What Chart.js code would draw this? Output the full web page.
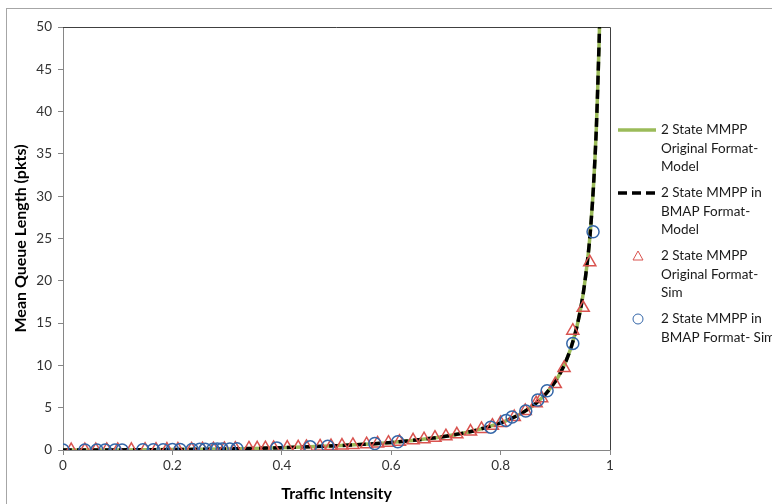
<!DOCTYPE html>
<html lang="en">

<head>
    <meta charset="UTF-8">
    <title>Mean Queue Length vs Traffic Intensity</title>
    <script src="https://cdn.jsdelivr.net/npm/chart.js"></script>
    <style>
        * {
            margin: 0;
            padding: 0;
            box-sizing: border-box;
        }

        body {
            background: #fff;
            width: 772px;
            height: 504px;
            overflow: hidden;
            position: relative;
        }

        .frame {
            position: absolute;
            left: 6px;
            top: 8px;
            width: 800px;
            height: 520px;
            border-left: 1px solid #a6a6a6;
            border-top: 1px solid #a6a6a6;
        }

        .wrap {
            position: absolute;
            left: 0;
            top: 0;
            width: 772px;
            height: 504px;
        }
    </style>
</head>

<body>
    <div class="frame"></div>
    <div class="wrap"><canvas id="queueChart"></canvas></div>

    <script>
        // model curves
        const modelX = [0, 0.1, 0.2, 0.3, 0.4, 0.5, 0.55, 0.6, 0.65, 0.7, 0.75, 0.8, 0.82, 0.84, 0.86, 0.88,
            0.9, 0.91, 0.92, 0.93, 0.94, 0.95, 0.96, 0.965, 0.97, 0.975, 0.98, 0.981];
        const modelY = [0, 0.01, 0.05, 0.13, 0.27, 0.5, 0.67, 0.9, 1.21, 1.63, 2.25, 3.2, 3.74, 4.41, 5.28, 6.45,
            8.1, 9.2, 10.58, 12.36, 14.73, 18.05, 23.04, 26.6, 31.4, 38.0, 48.0, 50.6];

        // simulation, original format (triangles)
        const origSimX = [0.015, 0.04, 0.06, 0.08, 0.1, 0.125, 0.15, 0.17, 0.19, 0.21, 0.235, 0.255, 0.275, 0.295,
            0.315, 0.34, 0.355, 0.37, 0.385, 0.41, 0.43, 0.445, 0.47, 0.49, 0.51, 0.53, 0.555, 0.575, 0.595,
            0.615, 0.64, 0.66, 0.68, 0.7, 0.72, 0.745, 0.765, 0.785, 0.8, 0.825, 0.845, 0.865, 0.875, 0.9,
            0.916, 0.932, 0.951, 0.963];
        const origSimY = [0, 0, 0, 0.01, 0.01, 0.02, 0.03, 0.04, 0.05, 0.06, 0.07, 0.09, 0.1, 0.12,
            0.15, 0.18, 0.2, 0.22, 0.24, 0.29, 0.32, 0.36, 0.42, 0.47, 0.53, 0.6, 0.69, 0.78, 0.87,
            0.98, 1.14, 1.28, 1.45, 1.63, 1.85, 2.18, 2.49, 2.87, 3.2, 3.89, 4.61, 5.54, 6.13, 7.8,
            9.7, 14.1, 16.8, 22.2];

        // simulation, BMAP format (circles)
        const bmapSimX = [0, 0.04, 0.062, 0.077, 0.095, 0.108, 0.146, 0.165, 0.183, 0.2, 0.214, 0.236, 0.25,
            0.26, 0.274, 0.282, 0.291, 0.305, 0.318, 0.391, 0.452, 0.484, 0.57, 0.612, 0.782, 0.81, 0.821,
            0.846, 0.868, 0.885, 0.932, 0.969];
        const bmapSimY = [0, 0, 0, 0.01, 0.01, 0.01, 0.03, 0.03, 0.04, 0.05, 0.06, 0.07, 0.08,
            0.09, 0.1, 0.11, 0.12, 0.13, 0.15, 0.25, 0.37, 0.45, 0.76, 0.97, 2.7, 3.5, 3.9,
            4.6, 5.9, 7.0, 12.6, 25.8];

        const xTicks = [0, 0.2, 0.4, 0.6, 0.8, 1];
        const yTicks = [0, 5, 10, 15, 20, 25, 30, 35, 40, 45, 50];

        const seriesNames = [
            ["2 State MMPP", "Original Format-", "Model"],
            ["2 State MMPP in", "BMAP Format-", "Model"],
            ["2 State MMPP", "Original Format-", "Sim"],
            ["2 State MMPP in", "BMAP Format- Sim"]
        ];

        const pairs = (xs, ys) => xs.map((x, i) => ({ x: x, y: ys[i] }));
        const FONT = "Lato, 'Open Sans', sans-serif";

        // right-hand legend, drawn by hand to get the wrapped labels
        const sideLegend = {
            id: 'sideLegend',
            afterDraw(chart) {
                const ctx = chart.ctx;
                const tops = [130, 193, 256, 319];
                ctx.save();
                ctx.font = "13.5px " + FONT;
                ctx.textBaseline = 'middle';
                chart.data.datasets.forEach((ds, i) => {
                    const y = tops[i];
                    if (i < 2) {
                        ctx.strokeStyle = ds.borderColor;
                        ctx.lineWidth = ds.borderWidth;
                        ctx.setLineDash(ds.borderDash || []);
                        ctx.beginPath();
                        ctx.moveTo(618, y);
                        ctx.lineTo(656, y);
                        ctx.stroke();
                        ctx.setLineDash([]);
                    } else {
                        ctx.strokeStyle = ds.pointBorderColor;
                        ctx.lineWidth = 1;
                        ctx.beginPath();
                        if (ds.pointStyle === 'triangle') {
                            ctx.moveTo(638, y - 5);
                            ctx.lineTo(643, y + 4);
                            ctx.lineTo(633, y + 4);
                            ctx.closePath();
                        } else {
                            ctx.arc(638, y, 5, 0, Math.PI * 2);
                        }
                        ctx.stroke();
                    }
                    ctx.fillStyle = '#1a1a1a';
                    seriesNames[i].forEach((line, k) => {
                        ctx.fillText(line, 661, y + k * 18.5);
                    });
                });
                ctx.restore();
            }
        };

        // dark frame on top and right of the plot area
        const plotFrame = {
            id: 'plotFrame',
            beforeDatasetsDraw(chart) {
                const a = chart.chartArea;
                const ctx = chart.ctx;
                ctx.save();
                ctx.strokeStyle = '#404040';
                ctx.lineWidth = 1;
                ctx.beginPath();
                ctx.moveTo(a.left, a.top + 0.5);
                ctx.lineTo(a.right + 0.5, a.top + 0.5);
                ctx.lineTo(a.right + 0.5, a.bottom);
                ctx.stroke();
                ctx.restore();
            }
        };

        const ctx = document.getElementById('queueChart').getContext('2d');
        const queueChart = new Chart(ctx, {
            type: 'scatter',
            data: {
                datasets: [
                    {
                        label: seriesNames[0].join(' '),
                        data: pairs(modelX, modelY),
                        showLine: true,
                        borderColor: '#9BBB59',
                        borderWidth: 3.5,
                        pointRadius: 0,
                        tension: 0.3,
                        order: 4
                    },
                    {
                        label: seriesNames[1].join(' '),
                        data: pairs(modelX, modelY),
                        showLine: true,
                        borderColor: '#000000',
                        borderWidth: 3.5,
                        borderDash: [9, 5],
                        pointRadius: 0,
                        tension: 0.3,
                        order: 3
                    },
                    {
                        label: seriesNames[2].join(' '),
                        data: pairs(origSimX, origSimY),
                        showLine: false,
                        pointStyle: 'triangle',
                        pointRadius: 7,
                        pointBorderWidth: 1.5,
                        pointBorderColor: '#D9534F',
                        pointBackgroundColor: 'rgba(0,0,0,0)',
                        order: 2
                    },
                    {
                        label: seriesNames[3].join(' '),
                        data: pairs(bmapSimX, bmapSimY),
                        showLine: false,
                        pointStyle: 'circle',
                        pointRadius: 6,
                        pointBorderWidth: 1.5,
                        pointBorderColor: '#3466A8',
                        pointBackgroundColor: 'rgba(0,0,0,0)',
                        order: 1
                    }
                ]
            },
            options: {
                responsive: true,
                maintainAspectRatio: false,
                animation: false,
                layout: { padding: { left: 9, right: 162, top: 27, bottom: 0 } },
                plugins: {
                    legend: { display: false },
                    tooltip: { enabled: false }
                },
                scales: {
                    x: {
                        type: 'linear',
                        min: 0,
                        max: 1,
                        afterFit: s => { s.height = 54; },
                        afterBuildTicks: s => { s.ticks = xTicks.map(v => ({ value: v })); },
                        grid: { drawOnChartArea: false, drawTicks: true, tickLength: 5, color: '#868686' },
                        border: { display: true, color: '#868686' },
                        ticks: {
                            color: '#333',
                            font: { family: FONT, size: 13.5 },
                            padding: 3,
                            maxRotation: 0,
                            callback: v => String(v)
                        },
                        title: {
                            display: true,
                            text: 'Traffic Intensity',
                            color: '#000',
                            font: { family: FONT, size: 16, weight: 'bold' },
                            padding: { top: 0, bottom: 1 }
                        }
                    },
                    y: {
                        type: 'linear',
                        min: 0,
                        max: 50,
                        afterFit: s => { s.width = 54; },
                        afterBuildTicks: s => { s.ticks = yTicks.map(v => ({ value: v })); },
                        grid: { drawOnChartArea: false, drawTicks: true, tickLength: 5, color: '#868686' },
                        border: { display: true, color: '#868686' },
                        ticks: {
                            color: '#333',
                            font: { family: FONT, size: 13.5 },
                            padding: 6
                        },
                        title: {
                            display: true,
                            text: 'Mean Queue Length (pkts)',
                            color: '#000',
                            font: { family: FONT, size: 16, weight: 'bold' },
                            padding: { top: 2, bottom: 0 }
                        }
                    }
                }
            },
            plugins: [plotFrame, sideLegend]
        });
    </script>

</body>

</html>
